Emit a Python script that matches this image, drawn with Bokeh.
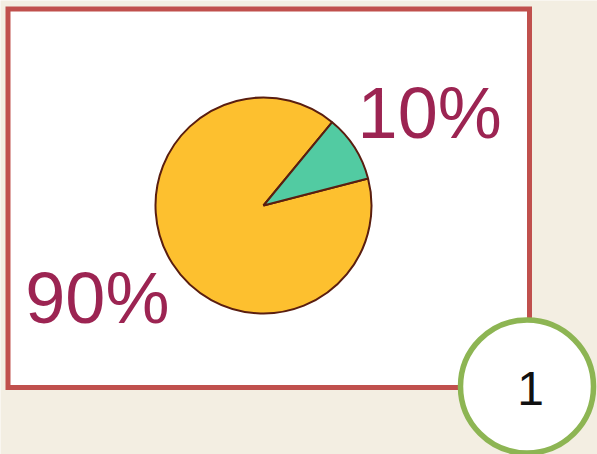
import math
from bokeh.plotting import figure
from bokeh.models import ColumnDataSource, Range1d
from bokeh.core.properties import value
from bokeh.embed import file_html
from bokeh.resources import INLINE

# ---- data ----
categories = ["90%", "10%"]
shares = [90, 10]
slice_colors = ["#FDC02F", "#52CBA2"]
badge_label = ["1"]

W, H = 597, 454
p = figure(width=W, height=H, output_backend="svg", toolbar_location=None,
           x_range=Range1d(0, W), y_range=Range1d(0, H), min_border=0,
           background_fill_color="#F3EEE2", border_fill_color="#F3EEE2")
p.axis.visible = False
p.grid.visible = False
p.outline_line_color = None

# white card with red border
p.quad(left=[7.5], right=[529], top=[445.5], bottom=[67],
       fill_color="white", line_color="#C0504D", line_width=5, line_join="miter")

# pie
cx, cy, r = 263, 249, 108
start_deg = 50.5
total = sum(shares)
starts, ends, mids = [], [], []
a = start_deg
for s in shares:
    span = 360.0 * s / total
    starts.append(math.radians(a))
    ends.append(math.radians(a + span))
    mids.append(math.radians(a + span / 2))
    a += span

src = ColumnDataSource(dict(start=starts, end=ends, color=slice_colors,
                            label=categories,
                            lx=[cx + 197 * math.cos(m) for m in mids],
                            ly=[cy + 173 * math.sin(m) for m in mids]))
p.wedge(x=cx, y=cy, radius=r, radius_units="screen", start_angle="start", end_angle="end",
        fill_color="color", line_color="#5A1E10", line_width=2, source=src)

p.text(x="lx", y="ly", text="label", source=src, text_align="center",
       text_baseline="middle", text_font=value("Liberation Sans"),
       text_font_size="72px", text_color="#9C2452")

# badge
p.scatter(x=[526.5], y=[68], size=133, marker="circle", fill_color="white",
          line_color="#8DB553", line_width=5.5)
p.text(x=[530], y=[66], text=badge_label, text_align="center", text_baseline="middle",
       text_font=value("Liberation Sans"), text_font_size="48px", text_color="#111111")

open("out.html", "w").write(file_html(p, INLINE))
